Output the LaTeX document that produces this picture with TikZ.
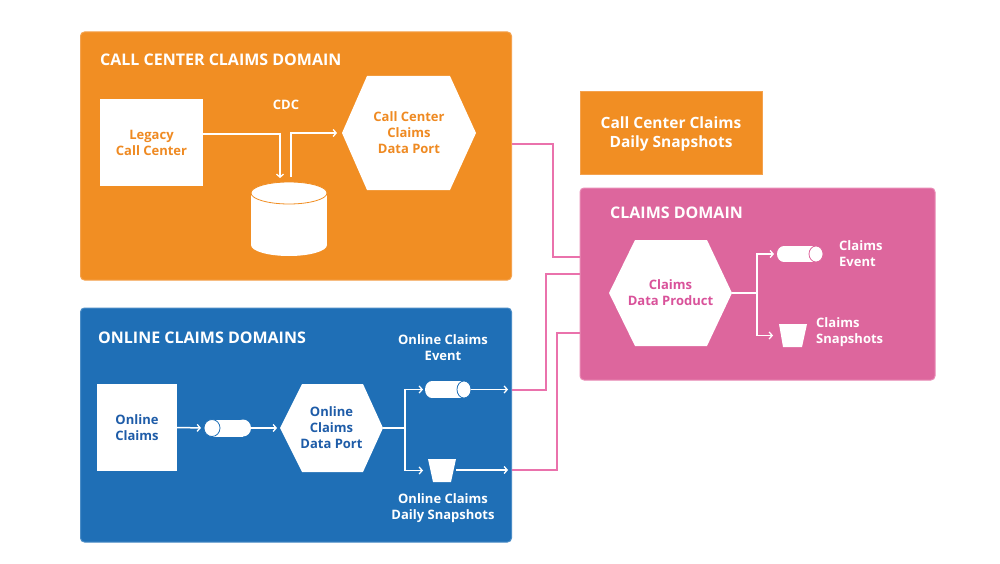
\documentclass[tikz,border=0pt]{standalone}
\usepackage{fontspec}
\setmainfont{Open Sans}
\usetikzlibrary{arrows.meta,calc}
\definecolor{orng}{HTML}{F18E23}
\definecolor{orngb}{HTML}{F4A24E}
\definecolor{blu}{HTML}{1F6FB6}
\definecolor{blub}{HTML}{4A8CC6}
\definecolor{pnk}{HTML}{DD669D}
\definecolor{pnkb}{HTML}{E98BB6}
\definecolor{conn}{HTML}{EA72AC}
\definecolor{blutext}{HTML}{1E5CA8}
\definecolor{orngtext}{HTML}{EF8A22}
\definecolor{pnktext}{HTML}{D9529A}
\tikzset{
  lbl/.style={font=\bfseries\fontsize{13}{16}\selectfont, align=center, inner sep=0pt},
  ttl/.style={font=\bfseries\fontsize{16}{19}\selectfont, text=white, anchor=west, inner sep=0pt},
  domainbox/.style={rounded corners=4pt, line width=1pt},
  wline/.style={draw=white, line width=1.5pt},
  warr/.style={wline, -{Straight Barb[length=3pt,width=7pt,line width=1.3pt]}},
  pline/.style={draw=conn, line width=2pt},
  shapebox/.style={inner sep=0pt, outer sep=0pt},
}
\begin{document}
\begin{tikzpicture}[x=1pt,y=-1pt]
\useasboundingbox (0,0) rectangle (1000,564);
\fill[white] (0,0) rectangle (1000,564);

% ---------- domain boxes ----------
\node[shapebox, domainbox, fill=orng, draw=orngb, minimum width=431, minimum height=248] (ccdom) at (296,156) {};
\node[shapebox, domainbox, fill=blu, draw=blub, minimum width=431, minimum height=234] (oldom) at (296,425) {};
\node[shapebox, domainbox, fill=pnk, draw=pnkb, minimum width=355, minimum height=192] (cdom) at (757.5,284) {};
\node[shapebox, fill=orng, draw=orngb, line width=1pt, minimum width=182, minimum height=83, lbl, font=\bfseries\fontsize{15.5}{19}\selectfont, text=white] (ccsnap) at (671,133.5) {Call Center Claims\\Daily Snapshots};

\node[ttl] (cctitle) at (100,60) {CALL CENTER CLAIMS DOMAIN};
\node[ttl] (oltitle) at (98,338) {ONLINE CLAIMS DOMAINS};
\node[ttl] (ctitle) at (610,213) {CLAIMS DOMAIN};

% ---------- call center domain ----------
\node[shapebox, fill=white, minimum width=103, minimum height=87, lbl, text=orngtext] (legacy) at (151.5,142.5) {Legacy\\Call Center};
\node[lbl, text=white] (cdc) at (286,105) {CDC};

% database cylinder
\node[shapebox, minimum width=76, minimum height=74] (db) at (289,219) {};
\fill[white] (251,193) rectangle (327,245);
\fill[white] (289,245) ellipse [x radius=38, y radius=11];
\filldraw[fill=white, draw=orng, line width=0.8pt] (289,193) ellipse [x radius=38, y radius=11];
\coordinate (dbin) at (280,178);
\coordinate (dbout) at (291,177);

% hexagon call center port
\fill[white] (342,133) -- (367,76) -- (450,76) -- (476,133) -- (450,190) -- (367,190) -- cycle;
\node[shapebox, minimum width=134, minimum height=114, lbl, text=orngtext] (ccport) at (409,133) {Call Center\\Claims\\Data Port};

\draw[warr] ($(legacy.east)+(0,-8.5)$) -| (dbin);
\draw[warr, shorten >=5pt] (dbout) |- (ccport.west);

% ---------- online domain ----------
\node[shapebox, fill=white, minimum width=80, minimum height=87, lbl, text=blutext] (olsrc) at (137,427.5) {Online\\Claims};

% small queue cylinder
\node[shapebox, minimum width=47, minimum height=17] (olq) at (227.5,428) {};
\fill[white] (212,419.5) rectangle (243,436.5);
\fill[white] (243,428) ellipse [x radius=8, y radius=8.5];
\filldraw[fill=white, draw=blu, line width=0.8pt] (212,428) ellipse [x radius=8, y radius=8.5];

% online hexagon
\fill[white] (280,428) -- (302,384) -- (363,384) -- (383,428) -- (363,472) -- (302,472) -- cycle;
\node[shapebox, minimum width=103, minimum height=88, lbl, text=blutext] (olport) at (331.5,428) {Online\\Claims\\Data Port};

% online event cylinder
\node[shapebox, minimum width=46, minimum height=17] (olev) at (448,389.5) {};
\fill[white] (432,381) rectangle (464,398);
\fill[white] (432,389.5) ellipse [x radius=7, y radius=8.5];
\filldraw[fill=white, draw=blu, line width=0.8pt] (464,389.5) ellipse [x radius=7, y radius=8.5];
\node[lbl, text=white] (olevlbl) at (443,348) {Online Claims\\Event};

% online snapshots bucket
\fill[white] (428,459) -- (456,459) -- (451,482) -- (433,482) -- cycle;
\node[shapebox, minimum width=28, minimum height=23] (olsn) at (442,470.5) {};
\node[lbl, text=white] (olsnlbl) at (443,508.5) {Online Claims\\Daily Snapshots};

\coordinate (olbr) at (405,428);
\coordinate (olevend) at (508,389.5);
\coordinate (olsnend) at (508,470);

\draw[warr, shorten >=3pt] (olsrc.east) -- (olq.west);
\draw[warr, shorten >=3pt] (olq.east) -- (olport.west);
\draw[wline] (olport.east) -- (olbr);
\draw[warr, shorten >=2pt] (olbr) |- (olev.west);
\draw[warr, shorten >=5pt] (olbr) |- (olsn.west);
\draw[warr] (olev.east) -- (olevend);
\draw[warr] (olsn.east |- olsnend) -- (olsnend);

% ---------- claims domain ----------
\fill[white] (609,293) -- (635,240) -- (707,240) -- (732,293) -- (707,346) -- (635,346) -- cycle;
\node[shapebox, minimum width=123, minimum height=106, lbl, text=pnktext] (cport) at (670.5,293) {Claims\\Data Product};

\node[shapebox, minimum width=46, minimum height=16] (cev) at (800,254) {};
\fill[white] (784,246) rectangle (816,262);
\fill[white] (784,254) ellipse [x radius=7, y radius=8];
\filldraw[fill=white, draw=pnk, line width=0.8pt] (816,254) ellipse [x radius=7, y radius=8];
\node[lbl, text=white, align=left, anchor=west] (cevlbl) at (839,254) {Claims\\Event};

\fill[white] (779,324) -- (807,324) -- (802,347) -- (783,347) -- cycle;
\node[shapebox, minimum width=28, minimum height=23] (csn) at (793,335.5) {};
\node[lbl, text=white, align=left, anchor=west] (csnlbl) at (816,332) {Claims\\Snapshots};

\coordinate (cbr) at (757,293);
\draw[wline] (cport.east) -- (cbr);
\draw[warr, shorten >=3pt] (cbr) |- (cev.west);
\draw[warr, shorten >=6pt] (cbr) |- (csn.west);

% ---------- pink connectors ----------
\coordinate (p1a) at (512,144);
\coordinate (p1b) at (580,257);
\coordinate (p2a) at (512,389.5);
\coordinate (p2b) at (580,274);
\coordinate (p3a) at (512,470);
\coordinate (p3b) at (580,333);
\draw[pline] (p1a) -- (553,144) |- (p1b);
\draw[pline] (p2a) -- (546,389.5) |- (p2b);
\draw[pline] (p3a) -- (557,470) |- (p3b);
\end{tikzpicture}
\end{document}
